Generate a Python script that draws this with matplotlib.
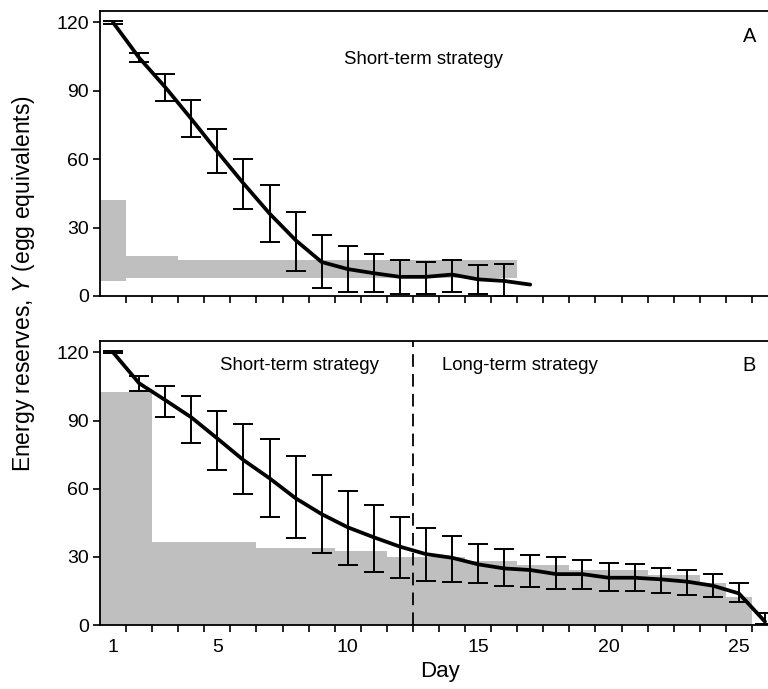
import numpy as np
import matplotlib
matplotlib.use("Agg")
import matplotlib.pyplot as plt

plt.rcParams['font.family'] = ['Liberation Sans', 'DejaVu Sans']
plt.rcParams['mathtext.fontset'] = 'custom'
plt.rcParams['mathtext.it'] = 'Liberation Sans:italic'
plt.rcParams['mathtext.rm'] = 'Liberation Sans'

# ---- Panel A data ----
days_a = np.arange(1, 18)
mean_a = [120, 104.5, 91.6, 77.7, 63.3, 49.4, 36.2, 24.5, 14.9, 11.8, 10.0,
          8.4, 8.4, 9.4, 7.3, 6.6, 5.0]
err_days_a = np.arange(1, 17)
upper_a = [120.5, 106.5, 97.4, 85.9, 73.1, 60.2, 48.8, 36.9, 26.8, 21.8, 18.4,
           16.0, 15.1, 16.0, 13.4, 14.2]
lower_a = [119.5, 102.6, 85.6, 69.8, 53.8, 38.0, 23.5, 11.0, 3.4, 1.6, 1.6,
           0.9, 0.9, 1.8, 0.7, 0.0]
band_days_a = np.arange(1, 17)
band_hi_a = [42, 17.5, 17.5, 16, 16, 16, 16, 16, 16, 16, 16, 16, 16, 16, 16, 16]
band_lo_a = [6.5, 8, 8, 8, 8, 8, 8, 8, 8, 8, 8, 8, 8, 8, 8, 8]

# ---- Panel B data ----
days_b = np.arange(1, 27)
mean_b = [120, 106.4, 99.0, 91.4, 82.1, 72.6, 64.6, 55.8, 48.8, 43.0, 38.6,
          34.5, 31.2, 29.6, 26.7, 24.9, 24.2, 22.4, 22.4, 20.8, 20.8, 20.1,
          19.1, 17.3, 13.9, 1.5]
upper_b = [120.5, 109.6, 105.0, 100.9, 94.3, 88.3, 81.8, 74.2, 65.9, 59.1,
           52.7, 47.4, 42.5, 39.2, 35.6, 33.3, 30.8, 29.9, 28.6, 27.4, 26.7,
           24.9, 24.2, 22.4, 18.3, 5.4]
lower_b = [119.5, 103.0, 91.7, 80.1, 68.3, 57.5, 47.5, 38.1, 31.5, 26.4, 23.2,
           20.5, 19.2, 19.1, 18.3, 17.3, 16.6, 15.7, 15.8, 15.0, 15.1, 13.9,
           13.2, 12.5, 10.3, 0.4]
band_days_b = np.arange(1, 26)
band_hi_b = [102.7, 102.7, 36.7, 36.7, 36.7, 36.7, 34.0, 34.0, 34.0, 32.6,
             32.6, 30.1, 30.1, 30.1, 28.3, 28.3, 26.4, 26.4, 24.2, 24.2, 24.2,
             22.0, 22.0, 18.3, 12.5]
switch_day = 12.5

xticklabel_days = [1, 5, 10, 15, 20, 25]
yticks = [0, 30, 60, 90, 120]

grey = '#bfbfbf'
fs = 13.4
tfs = 14

fig = plt.figure(figsize=(7.68, 6.89), dpi=100)
W = 678 / 768
axA = fig.add_axes([100 / 768, (689 - 296) / 689, W, 285 / 689])
axB = fig.add_axes([100 / 768, (689 - 625) / 689, W, 284 / 689])


def style(ax, labels):
    ax.set_xlim(0.5, 26.5)
    ax.set_ylim(0, 125)
    ax.spines['right'].set_visible(False)
    for s in ['top', 'left', 'bottom']:
        ax.spines[s].set_linewidth(1.3)
    ax.set_yticks(yticks)
    ax.set_yticklabels([str(v) for v in yticks], fontsize=tfs)
    ax.tick_params(axis='y', direction='out', length=5, width=1.2, pad=3)
    ax.set_xticks(xticklabel_days)
    if labels:
        ax.set_xticklabels([str(v) for v in xticklabel_days], fontsize=tfs)
    else:
        ax.set_xticklabels([])
    ax.tick_params(axis='x', which='major', length=0, pad=10)
    ax.set_xticks(np.arange(1.5, 26.0, 1.0), minor=True)
    ax.tick_params(axis='x', which='minor', direction='out', length=5, width=1.2)


def edges(d):
    d = np.asarray(d, dtype=float)
    return np.concatenate([d - 0.5, [d[-1] + 0.5]])


def add_errbars(ax, x, up, lo):
    up = np.asarray(up, dtype=float)
    lo = np.asarray(lo, dtype=float)
    mid = (up + lo) / 2
    ax.errorbar(x, mid, yerr=[mid - lo, up - mid], fmt='none', ecolor='black',
                elinewidth=1.4, capsize=7.5, capthick=1.4, zorder=3)


# Panel A
axA.stairs(band_hi_a, edges(band_days_a), baseline=band_lo_a, fill=True,
           color=grey, lw=0, zorder=1)
add_errbars(axA, err_days_a, upper_a, lower_a)
axA.plot(days_a, mean_a, color='black', lw=2.7, zorder=4, solid_capstyle='round')
style(axA, False)
axA.text(12.9, 103.6, 'Short-term strategy', fontsize=fs, ha='center', va='center')
axA.text(25.4, 114, 'A', fontsize=fs + 1, ha='center', va='center')

# Panel B
axB.stairs(band_hi_b, edges(band_days_b), baseline=0, fill=True,
           color=grey, lw=0, zorder=1)
add_errbars(axB, days_b, upper_b, lower_b)
axB.plot(days_b, mean_b, color='black', lw=2.7, zorder=4, solid_capstyle='round')
axB.axvline(switch_day, color='black', lw=1.3, ls=(0, (7, 4)), zorder=2)
style(axB, True)
axB.text(8.15, 114.4, 'Short-term strategy', fontsize=fs, ha='center', va='center')
axB.text(16.6, 114.4, 'Long-term strategy', fontsize=fs, ha='center', va='center')
axB.text(25.4, 114.4, 'B', fontsize=fs + 1, ha='center', va='center')

fig.text(440 / 768, 1 - 672 / 689, 'Day', fontsize=16, ha='center', va='center')
fig.text(24 / 768, 1 - 284 / 689, r'Energy reserves, $\it{Y}$ (egg equivalents)',
         fontsize=16.5, rotation=90, ha='center', va='center')

fig.savefig('out.png', dpi=100)
